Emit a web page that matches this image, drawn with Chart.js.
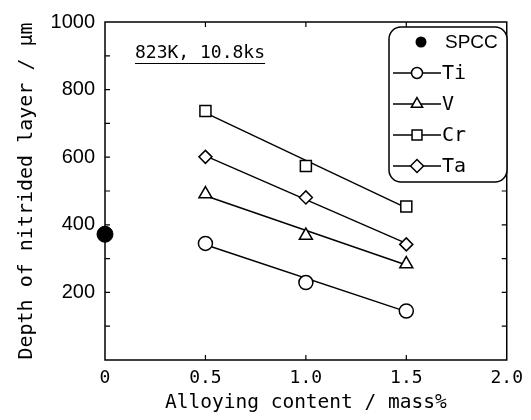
<!DOCTYPE html>
<html>
<head>
<meta charset="utf-8">
<script src="https://cdn.jsdelivr.net/npm/chart.js@4.4.1/dist/chart.umd.min.js"></script>
<style>
    html, body { margin: 0; padding: 0; background: #fff; }
</style>
</head>
<body>
<canvas id="nitrided-depth" width="531" height="420"></canvas>
<script>
// data
const contents = [0.5, 1.0, 1.5];
const tiDepth = [345, 229, 145];
const vDepth = [491, 368, 284];
const crDepth = [737, 574, 454];
const taDepth = [601, 481, 342];
const spccContent = [0];
const spccDepth = [372];

// fitted lines (end points at 0.5 and 1.5 mass%)
const fitContents = [0.5, 1.5];
const tiFit = [341, 143];
const vFit = [486, 281];
const crFit = [731, 450];
const taFit = [604, 345];

const xTicks = [0, 0.5, 1.0, 1.5, 2.0];
const yTickLabels = [200, 400, 600, 800, 1000];
const yMinorTicks = [100, 200, 300, 400, 500, 600, 700, 800, 900];

const seriesNames = ["Ti", "V", "Cr", "Ta"];
const seriesStyles = ["circle", "triangle", "rect", "rectRot"];
const conditionText = "823K, 10.8ks";

const mono = '"DejaVu Sans Mono", "Liberation Mono", monospace';

function toPoints(xs, ys) {
    return xs.map((x, i) => ({ x: x, y: ys[i] }));
}

const markerSets = [
    { data: toPoints(contents, tiDepth), pointStyle: "circle", pointRadius: 7 },
    { data: toPoints(contents, vDepth), pointStyle: "triangle", pointRadius: 7.5 },
    { data: toPoints(contents, crDepth), pointStyle: "rect", pointRadius: 7.8 },
    { data: toPoints(contents, taDepth), pointStyle: "rectRot", pointRadius: 6.5 },
].map((d) => ({
    ...d,
    showLine: false,
    backgroundColor: "#fff",
    borderColor: "#000",
    borderWidth: 1.5,
    order: 0,
}));

const fitSets = [tiFit, vFit, crFit, taFit].map((f) => ({
    data: toPoints(fitContents, f),
    showLine: true,
    pointRadius: 0,
    borderColor: "#000",
    borderWidth: 1.4,
    order: 2,
}));

const spccSet = {
    data: toPoints(spccContent, spccDepth),
    showLine: false,
    pointStyle: "circle",
    pointRadius: 8,
    backgroundColor: "#000",
    borderColor: "#000",
    borderWidth: 1,
    clip: false,
    order: 0,
};

// frame + inward ticks
const frameTicks = {
    id: "frameTicks",
    beforeDatasetsDraw(chart) {
        const { ctx, chartArea: a, scales } = chart;
        const x = scales.x, y = scales.y;
        ctx.save();
        ctx.strokeStyle = "#000";
        ctx.lineWidth = 1.5;
        ctx.strokeRect(a.left, a.top, a.right - a.left, a.bottom - a.top);
        ctx.lineWidth = 1.2;
        ctx.beginPath();
        yMinorTicks.forEach((v) => {
            const py = y.getPixelForValue(v);
            ctx.moveTo(a.left, py);
            ctx.lineTo(a.left + 5, py);
            ctx.moveTo(a.right, py);
            ctx.lineTo(a.right - 5, py);
        });
        xTicks.slice(1, -1).forEach((v) => {
            const px = x.getPixelForValue(v);
            ctx.moveTo(px, a.bottom);
            ctx.lineTo(px, a.bottom - 5);
            ctx.moveTo(px, a.top);
            ctx.lineTo(px, a.top + 5);
        });
        ctx.stroke();
        ctx.restore();
    },
};

// legend box and condition label
const figureLegend = {
    id: "figureLegend",
    afterDraw(chart) {
        const ctx = chart.ctx;
        ctx.save();

        // condition text, underlined
        ctx.fillStyle = "#000";
        ctx.font = "18px " + mono;
        ctx.textBaseline = "middle";
        ctx.textAlign = "left";
        ctx.fillText(conditionText, 135, 53);
        const w = ctx.measureText(conditionText).width;
        ctx.lineWidth = 1.2;
        ctx.beginPath();
        ctx.moveTo(135, 63.5);
        ctx.lineTo(135 + w, 63.5);
        ctx.stroke();

        // box
        const bx = 389, by = 27, bw = 118, bh = 155, r = 12;
        ctx.beginPath();
        ctx.roundRect(bx, by, bw, bh, r);
        ctx.fillStyle = "#fff";
        ctx.fill();
        ctx.strokeStyle = "#000";
        ctx.lineWidth = 1.5;
        ctx.stroke();

        // SPCC row
        ctx.fillStyle = "#000";
        ctx.beginPath();
        ctx.arc(421, 42, 5.5, 0, Math.PI * 2);
        ctx.fill();
        ctx.font = '19px "Liberation Sans", Arial, sans-serif';
        ctx.fillText("SPCC", 445, 43);

        const rowY = [73, 104, 135, 166];
        const legendRadius = [5.5, 6.5, 7, 6.5];
        ctx.font = "20px " + mono;
        seriesNames.forEach((name, i) => {
            const ry = rowY[i];
            ctx.strokeStyle = "#000";
            ctx.lineWidth = 1.4;
            ctx.beginPath();
            ctx.moveTo(393, ry);
            ctx.lineTo(441, ry);
            ctx.stroke();
            ctx.fillStyle = "#fff";
            ctx.lineWidth = 1.5;
            Chart.helpers.drawPoint(ctx, {
                pointStyle: seriesStyles[i],
                radius: legendRadius[i],
                rotation: 0,
                borderWidth: 1.5,
            }, 417, ry);
            ctx.fillStyle = "#000";
            ctx.fillText(name, 442, ry + 1);
        });
        ctx.restore();
    },
};

const config = {
    type: "scatter",
    data: {
        datasets: [spccSet, ...markerSets, ...fitSets],
    },
    options: {
        responsive: false,
        animation: false,
        layout: {
            padding: { top: 22, right: 21, left: 0, bottom: 0 },
        },
        scales: {
            x: {
                type: "linear",
                min: 0,
                max: 2,
                afterFit(scale) { scale.height = 60; },
                afterBuildTicks(scale) { scale.ticks = xTicks.map((v) => ({ value: v })); },
                grid: { display: false, drawTicks: false },
                border: { display: false },
                ticks: {
                    padding: 8,
                    color: "#000",
                    font: { family: mono, size: 18 },
                    callback: (v) => (v === 0 ? "0" : Number(v).toFixed(1)),
                },
                title: {
                    display: true,
                    text: "Alloying content / mass%",
                    color: "#000",
                    font: { family: mono, size: 19.5 },
                    padding: { top: 0, bottom: 5 },
                },
            },
            y: {
                type: "linear",
                min: 0,
                max: 1000,
                afterFit(scale) { scale.width = 105; },
                afterBuildTicks(scale) { scale.ticks = yTickLabels.map((v) => ({ value: v })); },
                grid: { display: false, drawTicks: false },
                border: { display: false },
                ticks: {
                    padding: 10,
                    color: "#000",
                    font: { family: '"Liberation Sans", Arial, sans-serif', size: 20 },
                    callback: (v) => String(v),
                },
                title: {
                    display: true,
                    text: "Depth of nitrided layer / μm",
                    color: "#000",
                    font: { family: mono, size: 20 },
                    padding: { top: 15, bottom: 0 },
                },
            },
        },
        plugins: {
            legend: { display: false },
            tooltip: { enabled: false },
        },
    },
    plugins: [frameTicks, figureLegend],
};

const canvas = document.getElementById("nitrided-depth");
canvas.chart = new Chart(canvas, config);
</script>
</body>
</html>
